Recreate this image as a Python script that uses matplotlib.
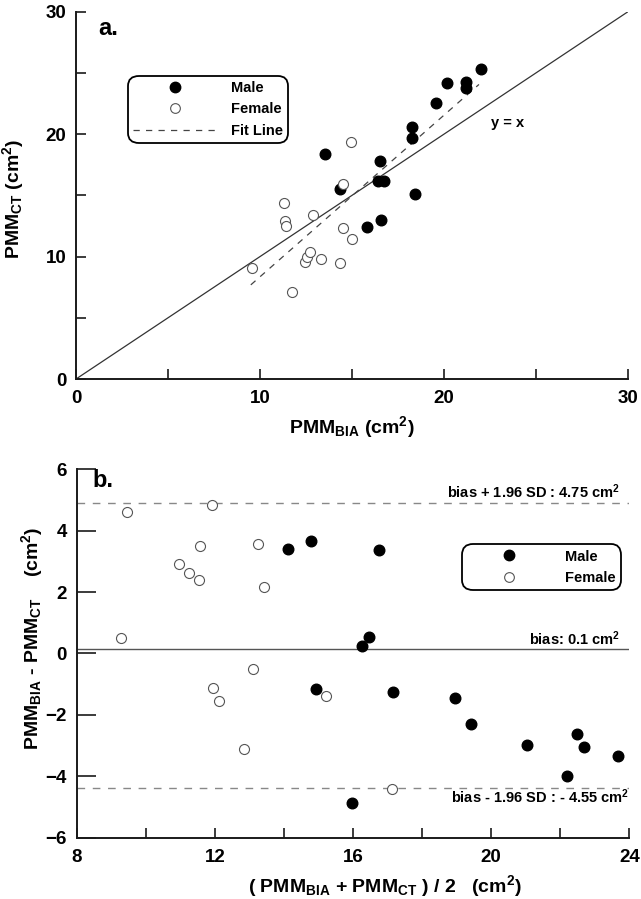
import numpy as np
import matplotlib
matplotlib.use('Agg')
import matplotlib.pyplot as plt
from matplotlib.lines import Line2D
from matplotlib.ticker import MultipleLocator

plt.rcParams['font.family'] = ['Liberation Sans', 'DejaVu Sans']
plt.rcParams['font.weight'] = 'bold'
plt.rcParams['axes.labelweight'] = 'bold'
plt.rcParams['mathtext.fontset'] = 'custom'
plt.rcParams['mathtext.rm'] = 'Liberation Sans:bold'
plt.rcParams['mathtext.it'] = 'Liberation Sans:bold'
plt.rcParams['mathtext.bf'] = 'Liberation Sans:bold'

# PMM (cm2)
male_bia = [13.53, 14.36, 16.53, 16.40, 16.73, 15.80, 16.60, 18.44,
            18.24, 18.26, 19.55, 20.19, 21.17, 21.17, 22.01]
male_ct = [18.41, 15.52, 17.78, 16.14, 16.20, 12.41, 12.95, 15.08,
           19.69, 20.56, 22.53, 24.19, 24.22, 23.78, 25.36]
female_bia = [9.54, 11.76, 11.29, 11.36, 11.40, 12.87, 12.43, 12.56,
              12.74, 13.33, 14.33, 14.49, 14.53, 15.02, 14.93]
female_ct = [9.05, 7.14, 14.40, 12.90, 12.52, 13.36, 9.52, 9.93,
             10.34, 9.82, 9.49, 12.33, 15.93, 11.45, 19.33]

# fit line
fit_x = [9.5, 21.9]
fit_slope = 1.32
fit_intercept = -4.85

# Bland-Altman lines (as drawn)
bias = 0.14
upper_loa = 4.89
lower_loa = -4.37
upper_label = 'bias + 1.96 SD : 4.75 cm$^{2}$'
bias_label = 'bias: 0.1 cm$^{2}$'
lower_label = 'bias - 1.96 SD : - 4.55 cm$^{2}$'

male_bia = np.array(male_bia)
male_ct = np.array(male_ct)
female_bia = np.array(female_bia)
female_ct = np.array(female_ct)

fig = plt.figure(figsize=(6.41, 8.99), dpi=100)
ax1 = fig.add_axes([0.1186, 0.5784, 0.8611, 0.4086])
ax2 = fig.add_axes([0.1197, 0.0682, 0.8621, 0.4098])

spine_c = '#1a1a1a'
for ax in (ax1, ax2):
    for s in ('top', 'right'):
        ax.spines[s].set_visible(False)
    for s in ('left', 'bottom'):
        ax.spines[s].set_linewidth(1.4)
        ax.spines[s].set_color(spine_c)

# ---- panel a ----
ax1.plot([0, 30], [0, 30], color='#333333', lw=0.9, zorder=1)
fx = np.array(fit_x)
ax1.plot(fx, fit_slope * fx + fit_intercept, color='#444444', lw=0.9,
         dashes=(5, 5), zorder=1)
ax1.scatter(male_bia, male_ct, s=58, color='black', zorder=3)
ax1.scatter(female_bia, female_ct, s=52, facecolor='white',
            edgecolor='#555555', linewidth=0.8, zorder=3)
ax1.set_xlim(0, 30)
ax1.set_ylim(0, 30)
ax1.xaxis.set_major_locator(MultipleLocator(10))
ax1.xaxis.set_minor_locator(MultipleLocator(5))
ax1.yaxis.set_major_locator(MultipleLocator(10))
ax1.yaxis.set_minor_locator(MultipleLocator(5))
ax1.tick_params(which='both', direction='in', length=7.5, width=1.2,
                color=spine_c, labelsize=13.5)
ax1.tick_params(axis='x', pad=8)
ax1.tick_params(axis='y', pad=7)
ax1.set_xlabel(r'PMM$_{\rm BIA}$ (cm$^{2}$)', fontsize=14, labelpad=5)
ax1.set_ylabel(r'PMM$_{\rm CT}$ (cm$^{2}$)', fontsize=14)
ax1.yaxis.set_label_coords(-0.09, 0.49)
ax1.text(1.2, 28.1, 'a.', fontsize=17)
ax1.text(23.46, 20.6, 'y = x', fontsize=10.5, ha='center')

h1 = [Line2D([], [], ls='none', marker='o', ms=7.5, mfc='black', mec='black'),
      Line2D([], [], ls='none', marker='o', ms=7, mfc='white', mec='#555555', mew=0.8),
      Line2D([], [], color='#444444', lw=0.9, dashes=(5, 5))]
leg1 = ax1.legend(h1, ['Male', 'Female', 'Fit Line'], loc='upper left',
                  bbox_to_anchor=(0.0947, 0.825), borderaxespad=0,
                  borderpad=0.35, handlelength=5.7, handletextpad=1.0,
                  labelspacing=0.5, prop={'size': 10.5, 'weight': 'bold'},
                  framealpha=1, edgecolor='black', fancybox=True)
leg1.get_frame().set_linewidth(1.3)
leg1.get_frame().set_boxstyle('round', pad=0, rounding_size=0.7)

# ---- panel b ----
male_mean = (male_bia + male_ct) / 2
male_diff = male_bia - male_ct
female_mean = (female_bia + female_ct) / 2
female_diff = female_bia - female_ct

ax2.axhline(bias, color='#555555', lw=1.0, zorder=1)
ax2.axhline(upper_loa, color='#888888', lw=1.0, dashes=(5.5, 5.5), zorder=1)
ax2.axhline(lower_loa, color='#888888', lw=1.0, dashes=(5.5, 5.5), zorder=1)
ax2.scatter(male_mean, male_diff, s=58, color='black', zorder=3)
ax2.scatter(female_mean, female_diff, s=52, facecolor='white',
            edgecolor='#555555', linewidth=0.8, zorder=3)
ax2.set_xlim(8, 24)
ax2.set_ylim(-6, 6)
ax2.xaxis.set_major_locator(MultipleLocator(4))
ax2.xaxis.set_minor_locator(MultipleLocator(2))
ax2.yaxis.set_major_locator(MultipleLocator(2))
ax2.tick_params(which='both', direction='in', width=1.2, color=spine_c,
                labelsize=13.5)
ax2.tick_params(axis='x', which='both', length=7.5, pad=8)
ax2.tick_params(axis='y', length=14, pad=7)
ax2.set_xlabel(r'( PMM$_{\rm BIA}$ + PMM$_{\rm CT}$ ) / 2   (cm$^{2}$)',
               fontsize=14)
ax2.xaxis.set_label_coords(0.558, -0.095)
ax2.set_ylabel(r'PMM$_{\rm BIA}$ - PMM$_{\rm CT}$    (cm$^{2}$)', fontsize=14)
ax2.yaxis.set_label_coords(-0.057, 0.54)
ax2.text(8.46, 5.43, 'b.', fontsize=17)
ax2.text(23.73, 5.055, upper_label, fontsize=10.5, ha='right')
ax2.text(23.73, 0.28, bias_label, fontsize=10.5, ha='right')
ax2.text(24.0, -4.86, lower_label, fontsize=10.5, ha='right')

h2 = h1[:2]
leg2 = ax2.legend(h2, ['Male', 'Female'], loc='upper left',
                  bbox_to_anchor=(0.698, 0.796), borderaxespad=0,
                  borderpad=0.35, handlelength=5.7, handletextpad=1.0,
                  labelspacing=0.5, prop={'size': 10.5, 'weight': 'bold'},
                  framealpha=1, edgecolor='black', fancybox=True)
leg2.get_frame().set_linewidth(1.3)
leg2.get_frame().set_boxstyle('round', pad=0, rounding_size=0.7)

fig.savefig('out.png', dpi=100)
